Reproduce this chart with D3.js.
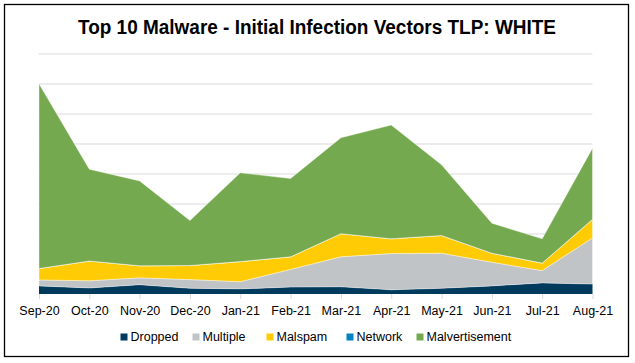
<!DOCTYPE html>
<html>
<head>
<meta charset="utf-8">
<script src="https://cdn.jsdelivr.net/npm/d3@7"></script>
<style>
	body { margin: 0; background: #fff; }
	svg { display: block; }
	.chartTitle { font-family: "Liberation Sans Narrow", "Arial Narrow", "Liberation Sans", sans-serif; font-weight: bold; font-size: 20px; fill: #000; }
	.xAxis text, .legendText { font-family: "Liberation Sans", Arial, sans-serif; font-size: 12.5px; fill: #000; }
</style>
</head>
<body>
<div id="chart"></div>
<script>

// data
const months = ["Sep-20", "Oct-20", "Nov-20", "Dec-20", "Jan-21", "Feb-21", "Mar-21", "Apr-21", "May-21", "Jun-21", "Jul-21", "Aug-21"];
const dropped = [2.7, 2.0, 3.1, 1.9, 1.7, 2.3, 2.4, 1.4, 1.9, 2.7, 3.7, 3.3];
const multiple = [2.0, 2.4, 2.3, 2.9, 2.4, 5.9, 10.0, 12.1, 11.7, 7.9, 4.1, 15.4];
const malspam = [3.8, 6.6, 4.0, 4.7, 6.7, 4.2, 7.7, 4.9, 5.9, 3.0, 2.5, 6.2];
const network = [0, 0, 0, 0, 0, 0, 0, 0, 0, 0, 0, 0];
const malvertisement = [61.6, 30.6, 28.3, 15.0, 29.6, 26.1, 32.0, 37.9, 23.6, 10.0, 8.1, 23.7];

const seriesNames = ["Dropped", "Multiple", "Malspam", "Network", "Malvertisement"];
const seriesValues = [dropped, multiple, malspam, network, malvertisement];
const colors = ["#003a5c", "#c0c4c7", "#ffcb05", "#0083c1", "#75a94f"];
const yTicks = [0, 10, 20, 30, 40, 50, 60, 70, 80];

// setup
const width = 635;
const height = 363;
const margin = {top: 54, right: 42.5, bottom: 69, left: 38.5};

const svg = d3.select("#chart").append("svg")
	.attr("width", width)
	.attr("height", height);

// outer frame
svg.append("rect")
	.attr("x", 4.5)
	.attr("y", 4.5)
	.attr("width", 624)
	.attr("height", 352)
	.attr("fill", "#fff")
	.attr("stroke", "#000")
	.attr("stroke-width", 1.3);

const rows = months.map((m, i) => {
	const row = {month: m};
	seriesNames.forEach((s, j) => row[s] = seriesValues[j][i]);
	return row;
});

// scales
const xScale = d3.scalePoint()
	.domain(months)
	.range([margin.left + 0.5, width - margin.right]);

const yScale = d3.scaleLinear()
	.domain([0, 80])
	.range([height - margin.bottom - 0, margin.top]);

// grid
svg.append("g")
	.attr("class", "yGrid")
	.selectAll("line")
	.data(yTicks.slice(1))
	.join("line")
		.attr("x1", margin.left)
		.attr("x2", width - margin.right)
		.attr("y1", d => yScale(d))
		.attr("y2", d => yScale(d))
		.attr("stroke", "#d9d9d9")
		.attr("stroke-width", 1);

// stacked areas
const stack = d3.stack().keys(seriesNames);
const stacked = stack(rows);

const area = d3.area()
	.x(d => xScale(d.data.month))
	.y0(d => yScale(d[0]))
	.y1(d => yScale(d[1]));

svg.append("g")
	.selectAll("path")
	.data(stacked)
	.join("path")
		.attr("fill", (d, i) => colors[i])
		.attr("stroke", (d, i) => i === 0 ? "none" : "#fff")
		.attr("stroke-width", 0.4)
		.attr("d", area);

// x axis
const xAxis = svg.append("g")
	.attr("class", "xAxis")
	.attr("transform", `translate(0, ${yScale(0)})`)
	.call(d3.axisBottom(xScale).tickSize(5).tickPadding(7));

xAxis.select(".domain").remove();
xAxis.selectAll(".tick line").attr("stroke", "#d9d9d9");

// title
svg.append("text")
	.attr("class", "chartTitle")
	.attr("x", width / 2 - 0.5)
	.attr("y", 33.5)
	.attr("text-anchor", "middle")
	.attr("textLength", 478)
	.attr("lengthAdjust", "spacingAndGlyphs")
	.text("Top 10 Malware - Initial Infection Vectors TLP: WHITE");

// legend
const legendX = [120.5, 192.5, 266.5, 346.5, 416.5];
const legend = svg.append("g")
	.selectAll("g")
	.data(seriesNames)
	.join("g")
		.attr("transform", (d, i) => `translate(${legendX[i]}, 337)`);

legend.append("rect")
	.attr("x", 0)
	.attr("y", -3.5)
	.attr("width", 7)
	.attr("height", 7)
	.attr("fill", (d, i) => colors[i]);

legend.append("text")
	.attr("class", "legendText")
	.attr("x", 10)
	.attr("y", 4.3)
	.text(d => d);

</script>
</body>
</html>
